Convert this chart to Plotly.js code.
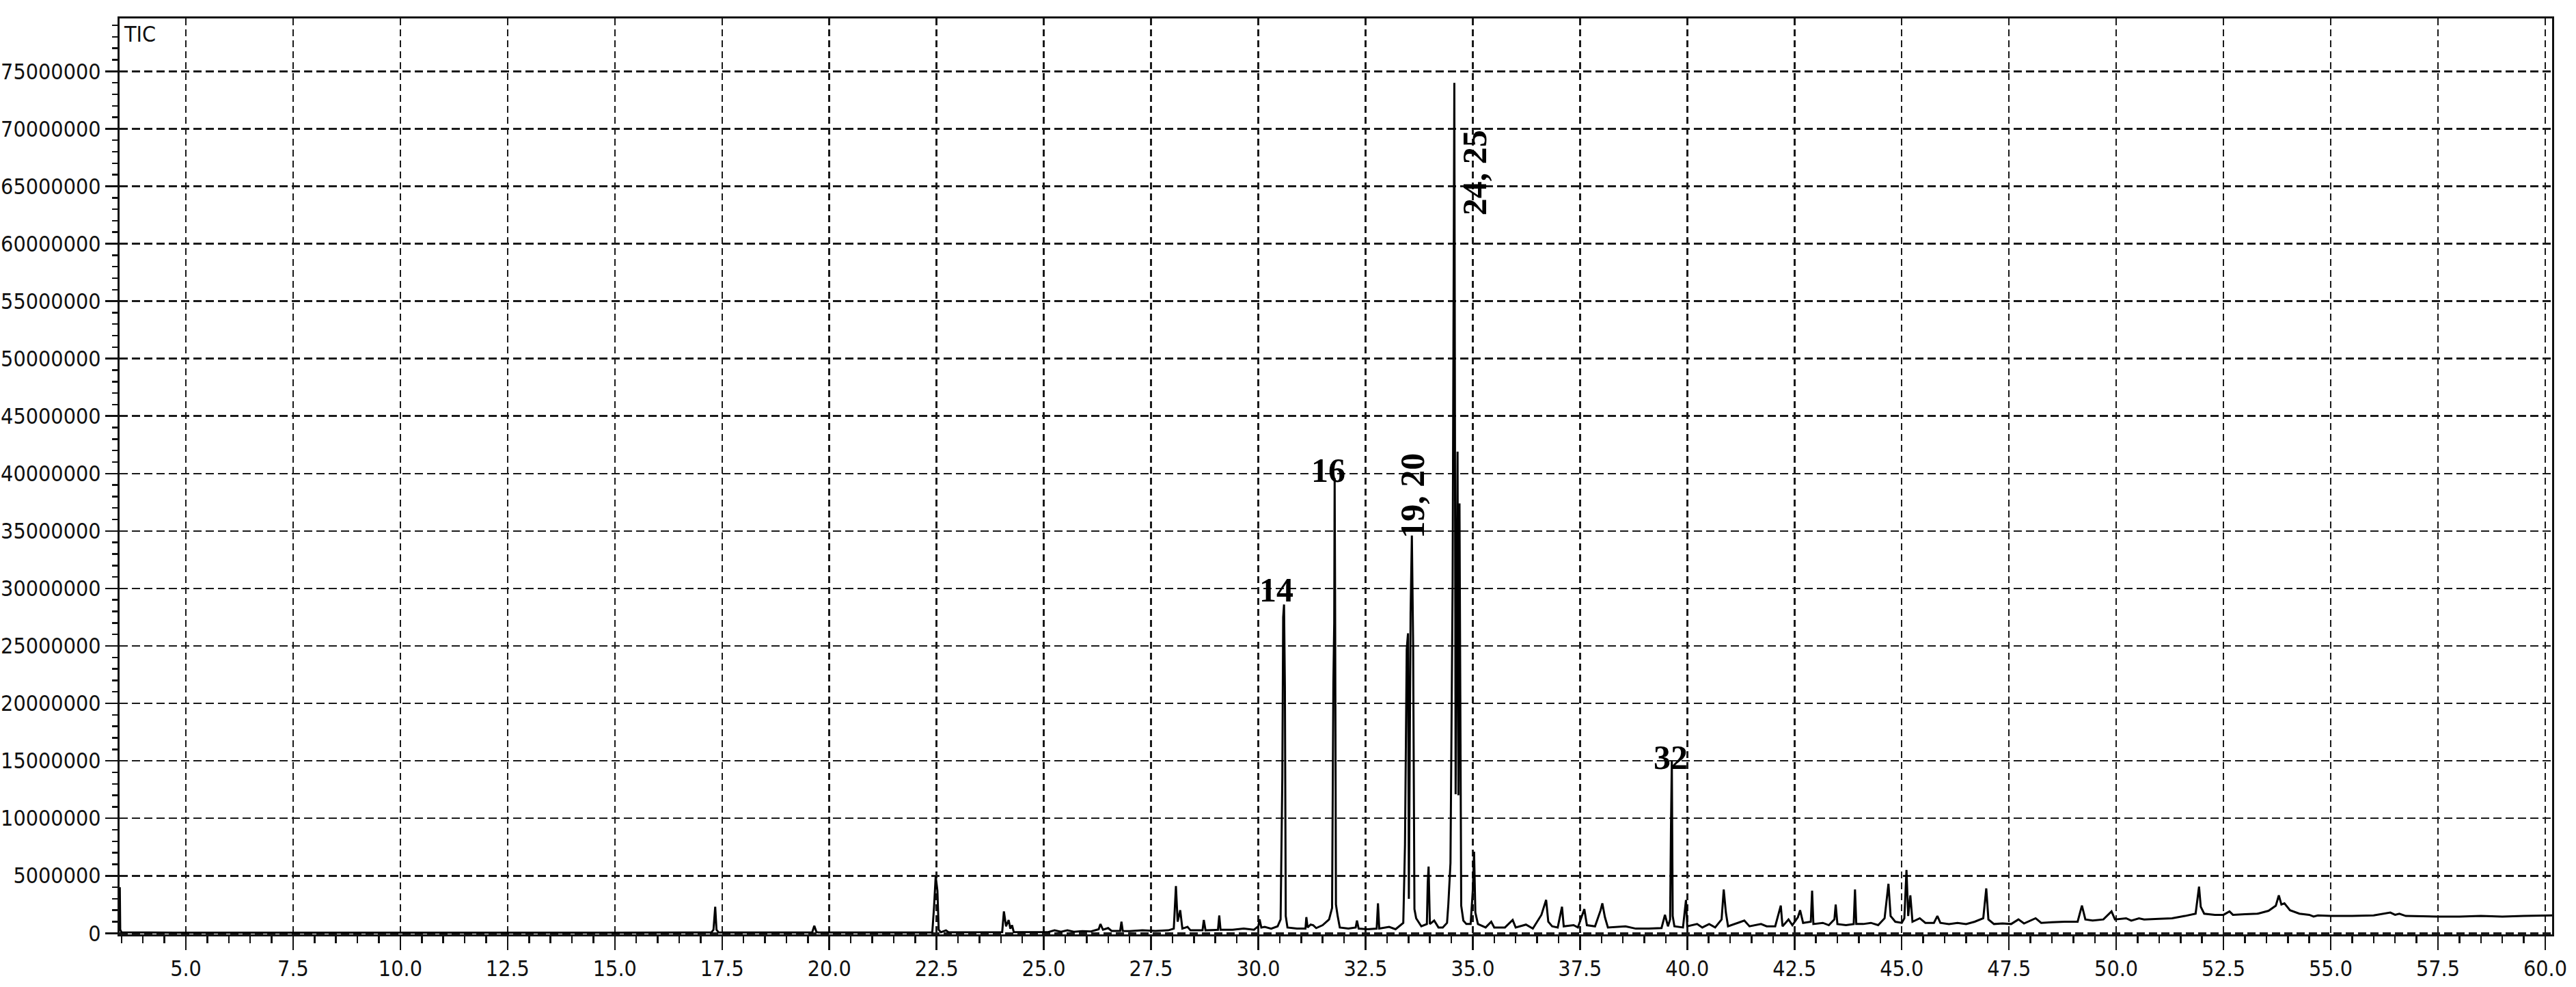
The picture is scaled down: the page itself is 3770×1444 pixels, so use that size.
<!DOCTYPE html>
<html>
<head>
<meta charset="utf-8">
<script src="https://cdn.plot.ly/plotly-3.0.1.min.js"></script>
<style>html,body{margin:0;padding:0;background:#fff;}#chart{width:3770px;height:1444px;}</style>
</head>
<body>
<div id="chart"></div>
<script>
// Retention time (min)
const rt = [
3.46,3.47,3.50,5.0,8.0,12.0,15.0,17.25,17.30,17.34,17.37,17.42,19.60,19.65,19.70,19.75,
22.40,22.44,22.48,22.52,22.55,22.60,22.72,22.78,24.03,24.07,24.12,24.18,24.22,24.26,24.30,
25.10,25.25,25.40,25.55,25.70,25.90,26.10,26.28,26.32,26.38,26.50,26.58,26.78,26.81,26.84,
27.0,27.3,27.6,27.9,28.03,28.08,28.12,28.18,28.23,28.35,28.42,28.70,28.73,28.77,29.06,29.09,
29.12,29.40,29.66,29.9,30.00,30.03,30.07,30.15,30.30,30.45,30.52,30.56,30.58,30.60,30.62,
30.64,30.68,30.9,31.10,31.12,31.15,31.22,31.28,31.35,31.50,31.65,31.72,31.75,31.77,31.78,
31.79,31.81,31.85,31.90,32.10,32.27,32.30,32.34,32.55,32.76,32.79,32.82,33.05,33.20,33.38,
33.42,33.46,33.49,33.51,33.55,33.58,33.61,33.64,33.68,33.80,33.93,33.95,33.97,34.00,34.10,
34.20,34.30,34.40,34.43,34.48,34.53,34.57,34.60,34.645,34.665,34.69,34.73,34.78,34.85,34.95,
35.00,35.03,35.06,35.12,35.30,35.43,35.50,35.75,35.93,36.00,36.24,36.40,36.60,36.71,36.76,
36.85,36.98,37.08,37.12,37.35,37.45,37.60,37.66,37.85,37.98,38.02,38.08,38.15,38.56,38.80,
39.10,39.40,39.48,39.55,39.60,39.62,39.64,39.66,39.70,39.90,39.97,40.00,40.23,40.35,40.51,
40.65,40.80,40.85,40.90,40.95,41.33,41.45,41.72,41.85,42.05,42.18,42.22,42.36,42.45,42.58,
42.63,42.70,42.88,42.91,42.94,43.16,43.30,43.43,43.46,43.50,43.70,43.88,43.91,43.94,44.10,
44.28,44.45,44.60,44.69,44.74,44.85,45.00,45.06,45.11,45.15,45.20,45.25,45.42,45.55,45.75,
45.83,45.90,46.10,46.30,46.50,46.70,46.90,46.97,47.02,47.15,47.35,47.55,47.72,47.85,48.12,
48.25,48.50,48.80,49.10,49.20,49.28,49.45,49.70,49.89,49.97,50.23,50.35,50.53,50.65,51.0,
51.3,51.6,51.85,51.93,51.97,52.05,52.30,52.50,52.64,52.72,53.00,53.30,53.55,53.72,53.79,
53.85,53.92,54.05,54.27,54.50,54.60,54.70,55.0,55.5,56.0,56.39,56.50,56.60,56.75,57.5,
58.0,58.5,59.0,59.5,60.16
];
// Total ion current (counts)
const tic = [
4.0e6,0.3e6,0.08e6,0.05e6,0.05e6,0.05e6,0.05e6,0.06e6,0.3e6,2.3e6,0.3e6,0.06e6,0.06e6,0.65e6,0.1e6,0.06e6,
0.06e6,2.2e6,4.95e6,3.7e6,0.3e6,0.08e6,0.25e6,0.08e6,0.1e6,1.9e6,0.6e6,1.15e6,0.4e6,0.7e6,0.1e6,
0.1e6,0.25e6,0.12e6,0.25e6,0.12e6,0.18e6,0.15e6,0.35e6,0.8e6,0.3e6,0.45e6,0.2e6,0.2e6,1.0e6,0.2e6,
0.18e6,0.25e6,0.2e6,0.25e6,0.4e6,4.1e6,1.0e6,2.0e6,0.4e6,0.55e6,0.25e6,0.25e6,1.15e6,0.25e6,0.3e6,1.55e6,
0.3e6,0.3e6,0.4e6,0.3e6,0.6e6,1.2e6,0.5e6,0.55e6,0.4e6,0.6e6,1.2e6,13.6e6,27.5e6,28.6e6,21.5e6,
1.5e6,0.5e6,0.4e6,0.4e6,1.4e6,0.5e6,0.75e6,0.7e6,0.45e6,0.7e6,1.2e6,2.2e6,21.7e6,27.0e6,39.6e6,
29.7e6,2.5e6,1.5e6,0.5e6,0.4e6,0.5e6,1.1e6,0.4e6,0.35e6,0.4e6,2.6e6,0.4e6,0.55e6,0.35e6,0.9e6,
7.7e6,24.7e6,26.1e6,3.0e6,27.8e6,34.6e6,25.0e6,2.1e6,1.3e6,0.6e6,0.8e6,4.4e6,5.8e6,0.8e6,1.1e6,
0.5e6,0.5e6,0.9e6,2.5e6,6.1e6,30.5e6,74.0e6,12.1e6,41.9e6,12.0e6,37.4e6,2.4e6,1.1e6,0.8e6,0.8e6,
3.7e6,7.1e6,1.8e6,0.8e6,0.5e6,1.0e6,0.5e6,0.5e6,1.15e6,0.5e6,0.75e6,0.4e6,1.6e6,2.9e6,1.0e6,
0.6e6,0.5e6,2.3e6,0.6e6,0.7e6,0.5e6,2.1e6,0.7e6,0.6e6,2.0e6,2.6e6,1.4e6,0.5e6,0.6e6,0.4e6,
0.4e6,0.45e6,1.6e6,0.6e6,1.2e6,9.2e6,15.0e6,1.5e6,0.6e6,0.5e6,2.9e6,0.6e6,0.8e6,0.5e6,0.8e6,
0.5e6,1.2e6,3.8e6,1.8e6,0.6e6,1.1e6,0.6e6,0.8e6,0.6e6,0.6e6,2.4e6,0.6e6,1.2e6,0.7e6,1.4e6,
2.0e6,0.9e6,1.0e6,3.7e6,0.8e6,0.9e6,0.7e6,1.2e6,2.5e6,0.8e6,0.7e6,0.8e6,3.8e6,0.8e6,0.8e6,
0.9e6,0.7e6,1.3e6,4.3e6,1.5e6,1.0e6,0.9e6,1.3e6,5.5e6,1.5e6,3.3e6,1.0e6,1.3e6,0.9e6,0.9e6,
1.5e6,0.9e6,0.8e6,0.9e6,0.8e6,1.0e6,1.3e6,3.9e6,1.2e6,0.8e6,0.85e6,0.8e6,1.2e6,0.85e6,1.3e6,
0.9e6,0.95e6,1.0e6,1.0e6,2.4e6,1.2e6,1.1e6,1.2e6,1.9e6,1.2e6,1.3e6,1.1e6,1.3e6,1.2e6,1.25e6,
1.3e6,1.5e6,1.7e6,4.05e6,2.3e6,1.7e6,1.6e6,1.6e6,1.9e6,1.6e6,1.65e6,1.7e6,1.95e6,2.4e6,3.3e6,
2.5e6,2.6e6,2.0e6,1.7e6,1.6e6,1.45e6,1.55e6,1.5e6,1.5e6,1.55e6,1.8e6,1.6e6,1.7e6,1.5e6,1.45e6,
1.45e6,1.5e6,1.45e6,1.5e6,1.55e6
];
// Axis ticks
const xTickVals = [5.0,7.5,10.0,12.5,15.0,17.5,20.0,22.5,25.0,27.5,30.0,32.5,35.0,37.5,40.0,42.5,45.0,47.5,50.0,52.5,55.0,57.5,60.0];
const xTickText = ["5.0","7.5","10.0","12.5","15.0","17.5","20.0","22.5","25.0","27.5","30.0","32.5","35.0","37.5","40.0","42.5","45.0","47.5","50.0","52.5","55.0","57.5","60.0"];
const yTickVals = [0,5e6,10e6,15e6,20e6,25e6,30e6,35e6,40e6,45e6,50e6,55e6,60e6,65e6,70e6,75e6];
const yTickText = ["0","5000000","10000000","15000000","20000000","25000000","30000000","35000000","40000000","45000000","50000000","55000000","60000000","65000000","70000000","75000000"];
// Peak labels
const peakLabels = ["14","16","19, 20","24, 25","32"];
const traceLabel = "TIC";

const AXF = "'Liberation Sans Narrow', 'Arial Narrow', 'DejaVu Sans Condensed', sans-serif";
const INK = '#111';

const trace = {
  x: rt, y: tic, type: 'scatter', mode: 'lines',
  line: {color: '#000', width: 3, simplify: false},
  hoverinfo: 'x+y'
};

const lblFont = {family: "'Liberation Serif', 'Times New Roman', serif", size: 50, color: '#000', weight: 'bold'};
const annotations = [
  {xref:'paper', yref:'paper', x:0, y:1, xanchor:'left', yanchor:'top', xshift:4, yshift:-2,
   text: traceLabel, showarrow:false, font:{family:AXF, size:32, color:INK}},
  {x:30.42, y:29.9e6, text:peakLabels[0], showarrow:false, font:lblFont},
  {x:31.63, y:40.3e6, text:peakLabels[1], showarrow:false, font:lblFont},
  {x:33.59, y:38.1e6, text:peakLabels[2], showarrow:false, font:lblFont, textangle:-90},
  {x:35.04, y:66.2e6, text:peakLabels[3], showarrow:false, font:lblFont, textangle:-90},
  {x:39.61, y:15.3e6, text:peakLabels[4], showarrow:false, font:lblFont}
];

const layout = {
  width: 3770, height: 1444,
  margin: {l:175, r:35, t:27, b:77, pad:0},
  paper_bgcolor: '#fff', plot_bgcolor: '#fff',
  showlegend: false,
  font: {family: AXF, size: 32, color: INK},
  xaxis: {
    range: [3.455, 60.16], tickmode: 'array', tickvals: xTickVals, ticktext: xTickText,
    ticks: 'outside', ticklen: 20, tickwidth: 2.5, tickcolor: INK,
    showline: true, linewidth: 3, linecolor: INK, mirror: true,
    showgrid: true, gridcolor: '#1a1a1a', gridwidth: 2.5, griddash: '10px,6px',
    zeroline: false, tickfont: {family: AXF, size: 32, color: INK},
    minor: {tickmode: 'linear', tick0: 0, dtick: 0.5, ticks: 'outside', ticklen: 10, tickwidth: 2.5, tickcolor: INK, showgrid: false}
  },
  yaxis: {
    range: [-0.1e6, 79.6e6], tickmode: 'array', tickvals: yTickVals, ticktext: yTickText,
    ticks: 'outside', ticklen: 18, tickwidth: 2.5, tickcolor: INK,
    showline: true, linewidth: 3, linecolor: INK, mirror: true,
    showgrid: true, gridcolor: '#1a1a1a', gridwidth: 2.5, griddash: '12px,6px',
    zeroline: false, tickfont: {family: AXF, size: 32, color: INK},
    minor: {tickmode: 'linear', tick0: 0, dtick: 1e6, ticks: 'outside', ticklen: 8, tickwidth: 2.5, tickcolor: INK, showgrid: false}
  },
  annotations: annotations
};

Plotly.newPlot('chart', [trace], layout, {staticPlot: true, displayModeBar: false});
</script>
</body>
</html>
